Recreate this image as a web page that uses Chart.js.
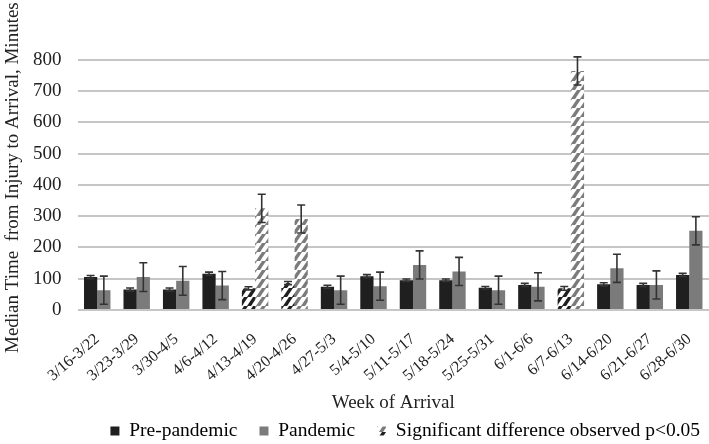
<!DOCTYPE html>
<html lang="en">
<head>
    <meta charset="UTF-8">
    <title>Median Time from Injury to Arrival</title>
    <script src="https://cdn.jsdelivr.net/npm/chart.js"></script>
    <style>
        body { margin: 0; background: #fff; }
        #wrap { width: 709px; height: 444px; }
    </style>
</head>
<body>
    <div id="wrap"><canvas id="grafico"></canvas></div>

    <script>
        const weeks = ['3/16-3/22', '3/23-3/29', '3/30-4/5', '4/6-4/12', '4/13-4/19', '4/20-4/26',
            '4/27-5/3', '5/4-5/10', '5/11-5/17', '5/18-5/24', '5/25-5/31', '6/1-6/6',
            '6/7-6/13', '6/14-6/20', '6/21-6/27', '6/28-6/30'];
        const preMedian = [105, 65, 65, 116, 69, 86, 74, 108, 95, 95, 71, 80, 69, 82, 80, 112];
        const preErr = [5, 5, 5, 5, 5, 5, 5, 5, 4, 4, 4, 5, 6, 5, 5, 5];
        const pandemicMedian = [63, 105, 93, 78, 325, 291, 63, 76, 144, 123, 63, 74, 765, 133, 80, 253];
        const pandemicErr = [45, 46, 46, 45, 45, 45, 45, 45, 45, 45, 45, 45, 45, 45, 45, 45];
        const significant = [false, false, false, false, true, true, false, false, false, false, false, false, true, false, false, false];

        const PRE = '#1f1f1f';
        const PAN = '#7b7b7b';
        const TEXT = '#222';

        // diagonal "/" stripes on white
        function hatch(colors) {
            const s = 9;
            const c = document.createElement('canvas');
            c.width = s * colors.length;
            c.height = s * colors.length;
            const g = c.getContext('2d');
            g.fillStyle = '#fff';
            g.fillRect(0, 0, c.width, c.height);
            g.lineWidth = 3.4;
            const n = c.width;
            for (let k = -1; k <= 2 * colors.length; k++) {
                g.strokeStyle = colors[((k % colors.length) + colors.length) % colors.length];
                g.beginPath();
                g.moveTo(k * s - n, n + n);
                g.lineTo(k * s + n, 0 - n);
                g.stroke();
            }
            return g.createPattern(c, 'repeat');
        }

        const hatchPre = hatch([PRE]);
        const hatchPan = hatch([PAN]);
        const hatchLegend = hatch([PRE, PAN]);

        const errorBars = {
            id: 'errorBars',
            afterDatasetsDraw(chart) {
                const ctx = chart.ctx;
                const y = chart.scales.y;
                const errs = [preErr, pandemicErr];
                ctx.save();
                ctx.strokeStyle = '#333';
                ctx.lineWidth = 1.6;
                chart.data.datasets.forEach((ds, i) => {
                    const meta = chart.getDatasetMeta(i);
                    meta.data.forEach((bar, j) => {
                        const v = ds.data[j];
                        const top = y.getPixelForValue(v + errs[i][j]);
                        const bot = y.getPixelForValue(v - errs[i][j]);
                        ctx.beginPath();
                        ctx.moveTo(bar.x, top);
                        ctx.lineTo(bar.x, bot);
                        ctx.moveTo(bar.x - 4, top);
                        ctx.lineTo(bar.x + 4, top);
                        ctx.moveTo(bar.x - 4, bot);
                        ctx.lineTo(bar.x + 4, bot);
                        ctx.stroke();
                    });
                });
                ctx.restore();
            }
        };

        // y title runs past the top of the canvas in the original
        const yTitle = {
            id: 'yTitle',
            afterDraw(chart) {
                const ctx = chart.ctx;
                ctx.save();
                ctx.translate(13, 353);
                ctx.rotate(-Math.PI / 2);
                ctx.font = '19px "Liberation Serif"';
                ctx.fillStyle = TEXT;
                ctx.textAlign = 'left';
                ctx.textBaseline = 'middle';
                ctx.fillText('Median Time  from Injury to Arrival, Minutes', 0, 0);
                ctx.restore();
            }
        };

        // legend row sits a bit higher/right than chart.js would put it
        const nudgeLegend = {
            id: 'nudgeLegend',
            afterLayout(chart) {
                const lg = chart.legend;
                lg.top -= 14.75;
                lg.left += 13;
                lg.right += 13;
            }
        };

        new Chart(document.getElementById('grafico'), {
            type: 'bar',
            data: {
                labels: weeks,
                datasets: [{
                    label: 'Pre-pandemic',
                    data: preMedian,
                    backgroundColor: preMedian.map((v, i) => significant[i] ? hatchPre : PRE)
                }, {
                    label: 'Pandemic',
                    data: pandemicMedian,
                    backgroundColor: pandemicMedian.map((v, i) => significant[i] ? hatchPan : PAN)
                }]
            },
            options: {
                responsive: true,
                maintainAspectRatio: false,
                animation: false,
                datasets: { bar: { categoryPercentage: 0.67, barPercentage: 1 } },
                layout: { padding: { left: 17, top: 60, right: 0, bottom: 0 } },
                scales: {
                    x: {
                        grid: { display: false, tickLength: 20 },
                        border: { display: false },
                        ticks: {
                            font: { family: 'Liberation Serif', size: 16 },
                            color: TEXT,
                            minRotation: 41,
                            maxRotation: 41,
                            padding: 0
                        },
                        title: {
                            display: true,
                            text: 'Week of Arrival',
                            font: { family: 'Liberation Serif', size: 19 },
                            color: TEXT,
                            padding: { top: 6, bottom: 0 }
                        }
                    },
                    y: {
                        min: 0,
                        max: 800,
                        ticks: {
                            stepSize: 100,
                            font: { family: 'Liberation Serif', size: 19 },
                            color: TEXT,
                            padding: 16
                        },
                        grid: { color: '#c6c6c6', lineWidth: 2, drawTicks: false },
                        border: { display: false }
                    }
                },
                plugins: {
                    legend: {
                        position: 'bottom',
                        align: 'end',
                        maxHeight: 30,
                        labels: {
                            font: { family: 'Liberation Serif', size: 19.5 },
                            color: TEXT,
                            boxWidth: 9,
                            boxHeight: 9,
                            padding: 22,
                            generateLabels: () => [
                                { text: 'Pre-pandemic', fillStyle: PRE, strokeStyle: PRE, lineWidth: 0 },
                                { text: 'Pandemic', fillStyle: PAN, strokeStyle: PAN, lineWidth: 0 },
                                { text: 'Significant difference observed p<0.05', fillStyle: hatchLegend, strokeStyle: '#fff', lineWidth: 0 }
                            ]
                        }
                    },
                    tooltip: { enabled: false }
                }
            },
            plugins: [errorBars, yTitle, nudgeLegend]
        });
    </script>
</body>
</html>
